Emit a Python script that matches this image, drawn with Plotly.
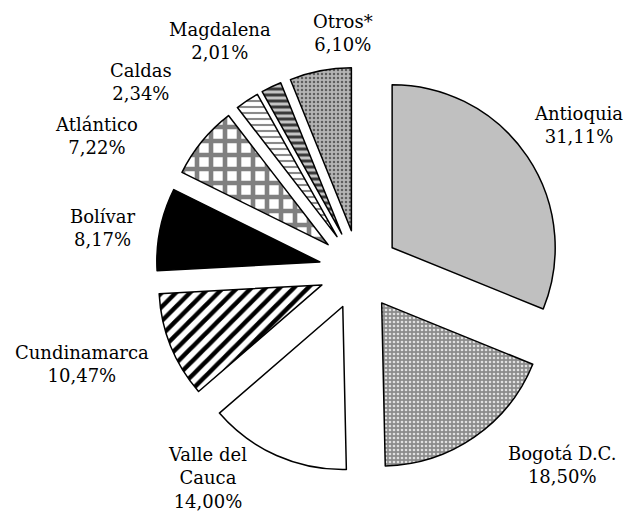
import math
import plotly.graph_objects as go

departamentos = ["Antioquia", "Bogotá D.C.", "Valle del Cauca", "Cundinamarca",
                 "Bolívar", "Atlántico", "Caldas", "Magdalena", "Otros*"]
etiquetas = ["Antioquia", "Bogotá D.C.", "Valle del<br>Cauca", "Cundinamarca",
             "Bolívar", "Atlántico", "Caldas", "Magdalena", "Otros*"]
porcentajes = [31.11, 18.50, 14.00, 10.47, 8.17, 7.22, 2.34, 2.01, 6.10]

# styles
colores = ["#c0c0c0", "#8c8c8c", "#ffffff", "#ffffff", "#000000",
           "#ffffff", "#ffffff", "#c4c4c4", "#b4b4b4"]
fg = ["#c0c0c0", "#e0e0e0", "#ffffff", "#000000", "#000000",
      "#808080", "#8a8a8a", "#3a3a3a", "#5e5e5e"]
formas = ["", ".", "", "/", "", "+", "-", "-", "."]
tam = [8, 4, 8, 10, 8, 14, 6, 6, 4]
solid = [0.3, 0.35, 0.3, 0.45, 0.3, 0.55, 0.35, 0.5, 0.3]

# label placement tweaks (angle offset in degrees, distance as factor of outer radius)
ajuste_ang = [0.5, -11.6, 12.2, 3.3, -2.3, -12.3, -15.8, -5.7, 7.1]
ajuste_dist = [1.294, 1.387, 1.269, 1.441, 1.278, 1.454, 1.418, 1.320, 1.170]

W, H = 633, 518
OFF = 8                    # page body margin
cx, cy = 359 - OFF, 270 - OFF   # pie centre in figure px
outer = 203                # radius incl. pull in px
pull = 0.245

dom_x = [(cx - outer) / W, (cx + outer) / W]
dom_y = [1 - (cy + outer) / H, 1 - (cy - outer) / H]

fig = go.Figure(go.Pie(
    labels=departamentos,
    values=porcentajes,
    sort=False,
    direction="clockwise",
    rotation=0,
    pull=pull,
    textposition="none",
    marker=dict(
        colors=colores,
        line=dict(color="black", width=1.5),
        pattern=dict(shape=formas, fgcolor=fg, bgcolor=colores, size=tam,
                     solidity=solid, fillmode="replace"),
    ),
    domain=dict(x=dom_x, y=dom_y),
    showlegend=False,
    hoverinfo="label+percent",
))

total = sum(porcentajes)
acum = 0.0
for lab, v, da, dd in zip(etiquetas, porcentajes, ajuste_ang, ajuste_dist):
    mid = 360.0 * (acum + v / 2) / total + da
    acum += v
    d = outer * dd
    px = cx + d * math.sin(math.radians(mid))
    py = cy - d * math.cos(math.radians(mid))
    txt = "%s<br>%s%%" % (lab, ("%.2f" % v).replace(".", ","))
    fig.add_annotation(
        x=px / W, y=1 - py / H, xref="paper", yref="paper",
        text=txt, showarrow=False, xanchor="center", yanchor="middle",
        align="center",
        font=dict(family="DejaVu Serif", size=18, color="black"),
    )

fig.update_layout(
    width=W, height=H,
    margin=dict(l=0, r=0, t=0, b=0),
    paper_bgcolor="white",
    plot_bgcolor="white",
)

fig.write_html("out.html")
